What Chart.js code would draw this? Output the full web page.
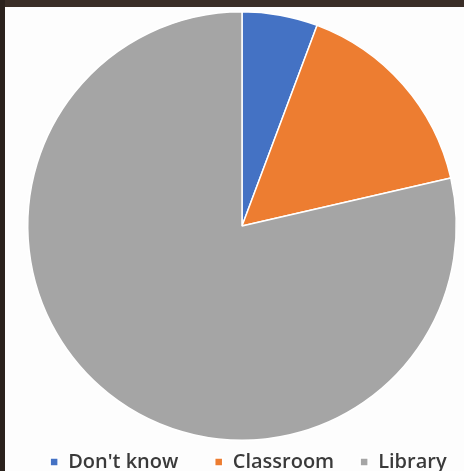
<!DOCTYPE html>
<html>
<head>
<meta charset="utf-8">
<script src="https://cdn.jsdelivr.net/npm/chart.js@4"></script>
<style>
  html, body { margin: 0; padding: 0; background: #fff; }
  #wrap { width: 464px; height: 471px; position: relative; background: #fdfdfd; overflow: hidden; }
  #wrap canvas { display: block; position: absolute; left: 0; top: 0; }
  .edge { position: absolute; background: #3a2e27; }
  .edge.top { left: 0; top: 0; width: 464px; height: 7px; }
  .edge.left { left: 0; top: 0; width: 5px; height: 471px; background: #2b221d; }
</style>
</head>
<body>
<div id="wrap">
  <canvas id="myChart" width="464" height="471"></canvas>
  <div class="edge top"></div>
  <div class="edge left"></div>
</div>
<script>
// data (percent shares)
var categories = ["Don't know", "Classroom", "Library"];
var shares = [5.7, 15.7, 78.6];
var colours = ['#4472C4', '#ED7D31', '#A5A5A5'];
// extra gap after each legend entry (non-breaking spaces)
var legendGaps = [7, 5, 2];

// legend sits a bit lower, closer to the bottom edge
var legendShift = {
    id: 'legendShift',
    beforeInit: function (chart) {
        if (!chart.legend) return;
        var fit = chart.legend.fit;
        chart.legend.fit = function () {
            fit.call(this);
            this.height -= 11;
        };
    }
};

function generateChart() {
    var ctx = document.getElementById('myChart').getContext('2d');
    window.myPie = new Chart(ctx, {
        type: 'pie',
        data: {
            labels: categories,
            datasets: [{
                data: shares,
                backgroundColor: colours,
                borderColor: '#ffffff',
                borderWidth: 1.5,
                hoverOffset: 0
            }]
        },
        options: {
            responsive: false,
            animation: false,
            layout: { padding: { left: 27, right: 7, top: 0, bottom: 0 } },
            plugins: {
                tooltip: { enabled: false },
                legend: {
                    position: 'bottom',
                    align: 'end',
                    labels: {
                        boxWidth: 8,
                        boxHeight: 8,
                        padding: 0,
                        color: '#3a3a3a',
                        font: { family: 'Open Sans', size: 20, weight: '600' },
                        generateLabels: function (chart) {
                            var items = Chart.overrides.pie.plugins.legend.labels.generateLabels(chart);
                            items.forEach(function (item, i) {
                                item.text = item.text + '\u00a0'.repeat(legendGaps[i]);
                            });
                            return items;
                        }
                    }
                }
            }
        },
        plugins: [legendShift]
    });
}
document.addEventListener('DOMContentLoaded', generateChart);
</script>
</body>
</html>
